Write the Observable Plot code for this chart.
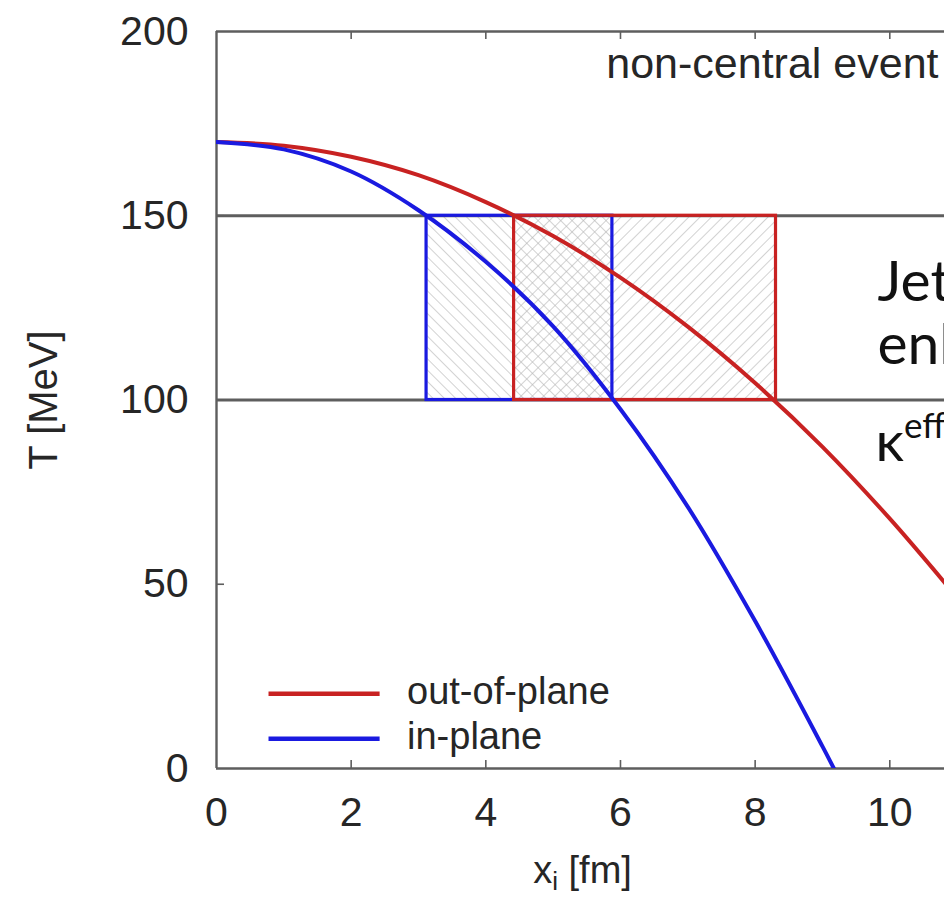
<!DOCTYPE html>
<html>
<head>
<meta charset="utf-8">
<script src="https://cdn.jsdelivr.net/npm/d3@7"></script>
<script src="https://cdn.jsdelivr.net/npm/@observablehq/plot@0.6"></script>
<style>
  html, body { margin: 0; padding: 0; background: #fff; overflow: hidden; }
  #chart { width: 944px; height: 898px; }
</style>
</head>
<body>
<div id="chart"></div>
<script>
// ---- data ----
const xTicks = [0, 2, 4, 6, 8, 10];
const yTicks = [0, 50, 100, 150, 200];

// out-of-plane temperature profile (x in fm, T in MeV)
const outX = [0, 1, 2, 3, 4, 5, 6, 7, 8, 9, 10, 11];
const outT = [170, 169, 166, 161, 153.7, 144.5, 133.2, 119.9, 104.6, 87.3, 67.8, 46.4];

// in-plane temperature profile
const inX = [0, 1, 2, 3, 4, 5, 6, 7, 8, 9, 9.17];
const inT = [170, 168, 162, 151.5, 137.5, 120, 97.5, 71, 40, 6, 0];

// temperature window lines
const windowT = [100, 150];

// x ranges where 100 < T < 150
const inRange = [3.12, 5.88];
const outRange = [4.42, 8.31];

const seriesNames = ["out-of-plane", "in-plane"];
const seriesColors = ["#c82222", "#1a1ae0"];

// annotation lines on the right (cut by the picture edge)
const noteLines = ["Jet", "enh"];

// ---- build tables ----
const outData = outX.map((x, i) => ({x, T: outT[i]}));
const inData = inX.map((x, i) => ({x, T: inT[i]}));
const inBox = [{x1: inRange[0], x2: inRange[1], y1: windowT[0], y2: windowT[1]}];
const outBox = [{x1: outRange[0], x2: outRange[1], y1: windowT[0], y2: windowT[1]}];
const legend = seriesNames.map((name, i) => ({name, color: seriesColors[i], y: 20.3 - i * 12.2}));

const W = 944, H = 898;
const mL = 216, mR = 0, mT = 31, mB = 130;
const plotW = W - mL - mR, plotH = H - mT - mB;
const gray = "#5e5e5e";

const noteMarks = noteLines.map((t, i) =>
  Plot.text([t], {frameAnchor: "top-left", dx: 877 - mL, dy: 300 - mT + i * 63, lineAnchor: "bottom", textAnchor: "start", fontSize: 57, fontFamily: "Lato, 'Open Sans', sans-serif", fill: "#111"})
);

const plot = Plot.plot({
  width: W,
  height: H,
  marginLeft: mL,
  marginRight: mR,
  marginTop: mT,
  marginBottom: mB,
  x: {domain: [0, (W - mL) / 67.33]},
  y: {domain: [0, 200]},
  style: {fontFamily: "'Liberation Sans', Arial, sans-serif", fontSize: "41px", color: "#262626", background: "#fff"},
  marks: [
    // hatched windows
    Plot.rect(inBox, {x1: "x1", x2: "x2", y1: "y1", y2: "y2", fill: "url(#hatchIn)"}),
    Plot.rect(outBox, {x1: "x1", x2: "x2", y1: "y1", y2: "y2", fill: "url(#hatchOut)"}),
    // window lines
    Plot.ruleY(windowT, {stroke: gray, strokeWidth: 2.8}),
    // window outlines
    Plot.rect(inBox, {x1: "x1", x2: "x2", y1: "y1", y2: "y2", fill: "none", stroke: seriesColors[1], strokeWidth: 3.2}),
    Plot.rect(outBox, {x1: "x1", x2: "x2", y1: "y1", y2: "y2", fill: "none", stroke: seriesColors[0], strokeWidth: 3.2}),
    // frame
    Plot.ruleY([200], {stroke: gray, strokeWidth: 2.4}),
    Plot.ruleY([0], {stroke: gray, strokeWidth: 2.4}),
    Plot.ruleX([0], {stroke: gray, strokeWidth: 2.4}),
    // inward ticks
    Plot.tickX(xTicks.filter(d => d > 0), {x: d => d, stroke: gray, strokeWidth: 1.6, insetBottom: plotH - 8}),
    Plot.tickX(xTicks.filter(d => d > 0), {x: d => d, stroke: gray, strokeWidth: 1.6, insetTop: plotH - 8}),
    Plot.tickY(yTicks.filter(d => d > 0 && d < 200), {y: d => d, stroke: gray, strokeWidth: 1.6, insetRight: plotW - 8}),
    // curves
    Plot.line(outData, {x: "x", y: "T", stroke: seriesColors[0], strokeWidth: 4, curve: "catmull-rom", clip: true}),
    Plot.line(inData, {x: "x", y: "T", stroke: seriesColors[1], strokeWidth: 4, curve: "catmull-rom", clip: true}),
    // axes
    Plot.axisX(xTicks, {tickSize: 0, tickPadding: 28, label: null, fontSize: 41}),
    Plot.axisY(yTicks, {tickSize: 0, tickPadding: 28, label: null, fontSize: 41}),
    // axis labels
    Plot.text(["x_i [fm]"], {frameAnchor: "bottom", dx: 2, dy: 114, lineAnchor: "bottom", fontSize: 38, className: "xlab"}),
    Plot.text(["T [MeV]"], {frameAnchor: "left", dx: -172, rotate: -90, textAnchor: "middle", lineAnchor: "middle", fontSize: 40}),
    // annotations
    Plot.text(["non-central event"], {frameAnchor: "top-right", dx: -6, dy: 46, lineAnchor: "bottom", textAnchor: "end", fontSize: 43}),
    ...noteMarks,
    Plot.text(["kappa"], {frameAnchor: "top-left", dx: 875 - mL, dy: 460 - mT, lineAnchor: "bottom", textAnchor: "start", fontSize: 56, fontFamily: "Lato, 'Open Sans', sans-serif", fill: "#111", className: "kappa"}),
    // legend
    Plot.ruleY(legend, {y: "y", x1: 0.78, x2: 2.43, stroke: "color", strokeWidth: 4.5}),
    Plot.text(legend, {y: "y", x: 2.83, text: "name", textAnchor: "start", fontSize: 38, lineAnchor: "middle", dy: -2})
  ]
});

// hatch patterns
const defs = d3.select(plot).insert("defs", ":first-child");
function hatch(id, angle) {
  const p = defs.append("pattern").attr("id", id).attr("patternUnits", "userSpaceOnUse")
    .attr("width", 8).attr("height", 8).attr("patternTransform", `rotate(${angle})`);
  p.append("line").attr("x1", 0).attr("y1", 0).attr("x2", 0).attr("y2", 8)
    .attr("stroke", "#b4b4b4").attr("stroke-width", 1.2);
}
hatch("hatchIn", -45);
hatch("hatchOut", 45);

// subscript / superscript text
d3.select(plot).selectAll(".xlab text").each(function() {
  const t = d3.select(this);
  t.text(null);
  t.append("tspan").text("x");
  t.append("tspan").attr("font-size", 26).attr("dy", 7).text("i");
  t.append("tspan").attr("dy", -7).text(" [fm]");
});
d3.select(plot).selectAll(".kappa text").each(function() {
  const t = d3.select(this);
  t.text(null);
  t.append("tspan").text("κ");
  t.append("tspan").attr("font-size", 35).attr("dy", -23).text("eff");
});

document.getElementById("chart").appendChild(plot);
</script>
</body>
</html>
